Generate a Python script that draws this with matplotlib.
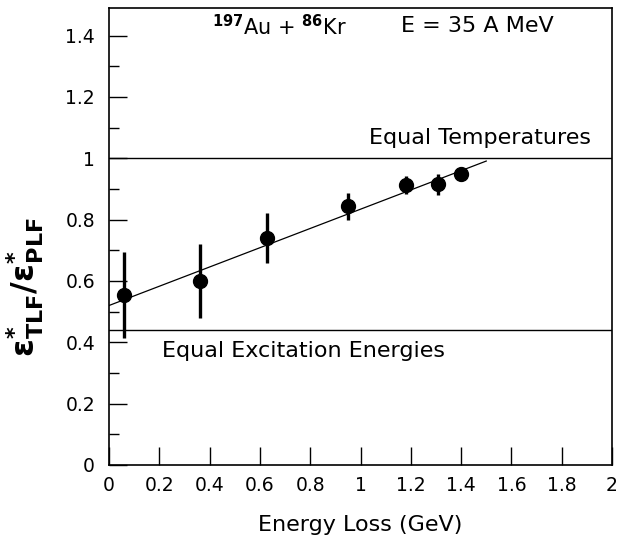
import matplotlib.pyplot as plt
import numpy as np

# energy loss (GeV) and excitation energy ratio TLF/PLF
energy_loss = [0.06, 0.36, 0.63, 0.95, 1.18, 1.31, 1.40]
ratio = [0.555, 0.600, 0.740, 0.843, 0.912, 0.915, 0.950]
ratio_err = [0.140, 0.120, 0.080, 0.045, 0.030, 0.035, 0.0]

# linear fit drawn through the points
fit_x = [0.0, 1.5]
fit_intercept = 0.52
fit_slope = 0.314

equal_temp = 1.0
equal_exc = 0.44

plt.rcParams['font.family'] = ['DejaVu Sans']

fig = plt.figure(figsize=(6.18, 5.40), dpi=100)
ax = fig.add_axes([109 / 618, 1 - 465 / 540, 503 / 618, 457 / 540])

ax.axhline(equal_temp, color='black', lw=1.0)
ax.axhline(equal_exc, color='black', lw=1.0)

fx = np.array(fit_x)
ax.plot(fx, fit_intercept + fit_slope * fx, color='black', lw=0.9)

ax.errorbar(energy_loss, ratio, yerr=ratio_err, fmt='o', color='black',
            ms=10, elinewidth=2.4, capsize=0)

ax.set_xlim(0, 2)
ax.set_ylim(0, 1.49)
ax.set_xticks(np.arange(0, 2.01, 0.2))
ax.set_xticklabels(['0', '0.2', '0.4', '0.6', '0.8', '1', '1.2', '1.4', '1.6', '1.8', '2'])
ax.set_yticks(np.arange(0, 1.41, 0.2))
ax.set_yticklabels(['0', '0.2', '0.4', '0.6', '0.8', '1', '1.2', '1.4'])
ax.set_yticks(np.arange(0.1, 1.41, 0.2), minor=True)

ax.tick_params(axis='both', which='major', direction='in', length=13, width=1.0,
               labelsize=13.5, top=False, right=False)
ax.tick_params(axis='y', which='minor', direction='in', length=7, width=1.0)
ax.tick_params(axis='x', which='major', pad=8)
ax.tick_params(axis='y', which='major', pad=10)
for s in ax.spines.values():
    s.set_linewidth(1.2)

ax.text(1.915, 1.035, 'Equal Temperatures', ha='right', va='bottom', fontsize=16)
ax.text(0.21, 0.405, 'Equal Excitation Energies', ha='left', va='top', fontsize=16)
ax.text(0.41, 1.43, r'$^{\mathbf{197}}$Au + $^{\mathbf{86}}$Kr', ha='left', va='center', fontsize=15)
ax.text(1.16, 1.43, 'E = 35 A MeV', ha='left', va='center', fontsize=16)

ax.set_xlabel('Energy Loss (GeV)', fontsize=16, labelpad=14)
ax.set_ylabel(r'$\mathbf{\varepsilon^{*}_{TLF}/\varepsilon^{*}_{PLF}}$', fontsize=23)
ax.yaxis.set_label_coords(-0.125, 0.39)

fig.savefig('out.png', dpi=100)
